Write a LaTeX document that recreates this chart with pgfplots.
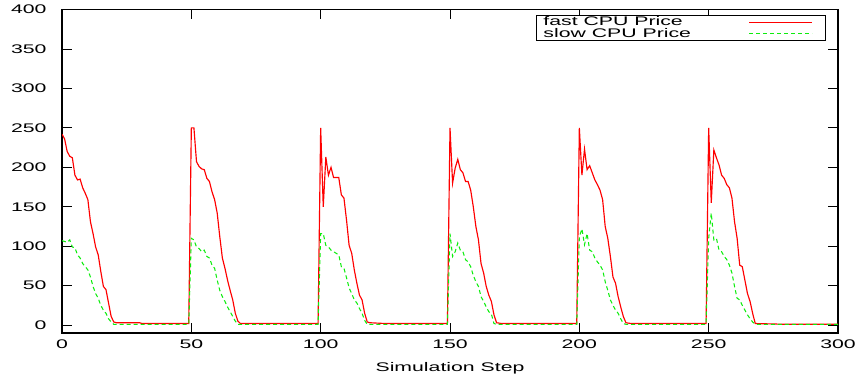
\documentclass[border=0pt]{standalone}
\usepackage{fontspec}
\setmainfont{Liberation Sans}[FakeStretch=1.7]
\usepackage{pgfplots}
\pgfplotsset{compat=1.18}
\definecolor{fastred}{rgb}{1,0,0}
\definecolor{slowgreen}{rgb}{0.05,0.93,0.05}
\begin{document}
\begin{tikzpicture}
\begin{axis}[
  scale only axis, width=776pt, height=323.5pt,
  xmin=0, xmax=300, ymin=-10, ymax=400,
  xtick={0,50,...,300}, ytick={0,50,...,400},
  tick align=inside, major tick length=10pt,
  tick style={black, line width=0.8pt},
  axis line style={line width=1.2pt},
  every tick label/.append style={font=\fontsize{12.5}{15}\selectfont},
  /pgf/number format/assume math mode=true,
  yticklabel style={xshift=-12pt},
  xticklabel style={yshift=-3pt},
  xlabel={Simulation Step},
  xlabel style={font=\fontsize{12.5}{15}\selectfont, yshift=-7pt},
  legend style={at={(axis description cs:0.9845,0.983)}, anchor=north east,
    draw=black, line width=0.8pt, font=\fontsize{12.5}{13}\selectfont,
    inner xsep=3pt, inner ysep=1pt,
    nodes={inner xsep=4pt, inner ysep=0.5pt},
    row sep=0pt, column sep=0pt},
  legend plot pos=right,
  legend cell align=left,
  legend image code/.code={\draw[#1] (0pt,0pt) -- (63pt,0pt); \path (73pt,0pt);},
]
\addplot[fastred, line width=1.15pt] coordinates {
(0,242) (1,236) (2,220) (3,214) (4,212) (5,190) (6,184) (7,185) (8,174) (9,167)
(10,159) (11,131) (12,116) (13,99) (14,89) (15,68) (16,49) (17,45) (18,28) (19,11)
(20,4) (21,3) (30,3) (31,2) (49,2)
(50,250) (51,250) (52,207) (53,201) (54,198) (55,197) (56,186) (57,182) (58,169) (59,159)
(60,142) (61,112) (62,85) (63,72) (64,57) (65,44) (66,32) (67,15) (68,5) (69,2) (80,2) (99,2)
(100,250) (101,150) (102,213) (103,190) (104,200) (105,187) (106,187) (107,187) (108,165) (109,161)
(110,133) (111,101) (112,91) (113,70) (114,53) (115,38) (116,32) (117,15) (118,4) (119,3) (125,2) (149,2)
(150,250) (151,180) (152,199) (153,210) (154,197) (155,193) (156,182) (157,182) (158,171) (159,150)
(160,125) (161,108) (162,78) (163,66) (164,49) (165,38) (166,30) (167,13) (168,3) (170,2) (199,2)
(200,250) (201,190) (202,223) (203,197) (204,202) (205,193) (206,184) (207,178) (208,171) (209,159)
(210,125) (211,110) (212,87) (213,61) (214,53) (215,36) (216,23) (217,11) (218,3) (220,2) (249,2)
(250,250) (251,155) (252,222) (253,212) (254,203) (255,190) (256,186) (257,178) (258,174) (259,161)
(260,131) (261,110) (262,76) (263,74) (264,57) (265,40) (266,30) (267,15) (268,2) (280,1) (300,1)
};
\addlegendentry{\makebox[201pt][l]{fast CPU Price}}
\addplot[slowgreen, line width=1.05pt, dash pattern=on 4pt off 3pt] coordinates {
(0,107) (1,106) (2,105) (3,108) (4,99) (5,98) (6,89) (7,85) (8,78) (9,74)
(10,70) (11,61) (12,49) (13,40) (14,34) (15,25) (16,19) (17,15) (18,8) (19,4) (20,1) (49,1)
(50,110) (51,108) (52,99) (53,97) (54,93) (55,95) (56,87) (57,85) (58,76) (59,72)
(60,57) (61,44) (62,36) (63,30) (64,23) (65,17) (66,11) (67,5) (68,1) (99,1)
(100,116) (101,116) (102,101) (103,99) (104,95) (105,93) (106,91) (107,89) (108,74) (109,72)
(110,60) (111,47) (112,40) (113,32) (114,28) (115,21) (116,15) (117,6) (118,1) (149,1)
(150,116) (151,87) (152,93) (153,104) (154,95) (155,93) (156,83) (157,80) (158,74) (159,63)
(160,55) (161,49) (162,36) (163,30) (164,23) (165,17) (166,14) (167,2) (168,1) (199,1)
(200,112) (201,122) (202,102) (203,116) (204,95) (205,93) (206,85) (207,80) (208,76) (209,70)
(210,55) (211,44) (212,32) (213,25) (214,19) (215,15) (216,8) (217,2) (218,1) (249,1)
(250,110) (251,142) (252,108) (253,110) (254,95) (255,93) (256,87) (257,83) (258,76) (259,66)
(260,49) (261,34) (262,32) (263,25) (264,19) (265,13) (266,8) (267,4) (268,1) (300,1)
};
\addlegendentry{\makebox[201pt][l]{slow CPU Price}}
\end{axis}
\path (current axis.south west) ++(-62pt,-45pt) (current axis.north east) ++(25pt,9.5pt);
\end{tikzpicture}
\end{document}
